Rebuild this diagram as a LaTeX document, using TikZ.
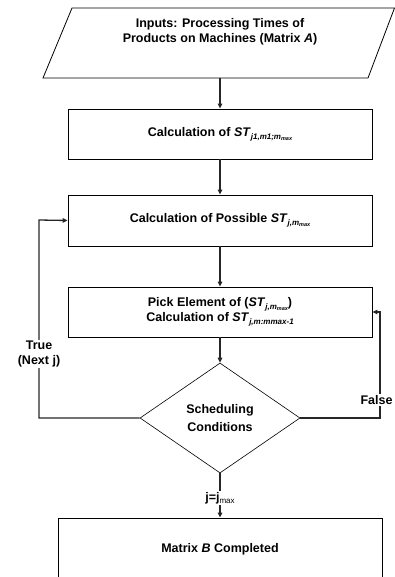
\documentclass[tikz,border=0pt]{standalone}
\usepackage{fontspec}
\setmainfont{Liberation Sans}
\usetikzlibrary{shapes.geometric,arrows.meta}
\newcommand{\subA}[1]{\raisebox{-0.45ex}{\fontsize{8}{9}\selectfont\itshape #1}}
\newcommand{\subB}[1]{\raisebox{-0.2ex}{\fontsize{5.5}{6}\selectfont\itshape #1}}
\begin{document}
\begin{tikzpicture}[x=1pt,y=-1pt,
  txt/.style={font=\fontsize{12.5}{14.5}\selectfont\bfseries, align=center},
  box/.style={txt, draw=black, line width=0.8pt, minimum width=304pt, minimum height=50pt, inner sep=0pt},
  dec/.style={txt, draw=black, line width=0.6pt, shape=diamond, minimum width=160pt, minimum height=110pt, inner sep=0pt},
  arr/.style={draw=black!85, line width=1.3pt, -{Triangle[length=5pt,width=4.5pt]}},
  lbl/.style={txt, fill=white, inner sep=1pt}]
\useasboundingbox (0,0) rectangle (395,577);
\draw[line width=0.8pt] (72,8) -- (394.5,8) -- (368,78) -- (43,78) -- cycle;
\node[txt] (in) at (220,32) {Inputs: Processing Times of\\Products on Machines (Matrix \textit{A})};
\coordinate (inb) at (220,78);
\node[box] (b1) at (220,134) {Calculation of \textit{ST}\subA{j1,m1;m\subB{max}}};
\node[box, minimum height=51pt] (b2) at (220,220.5) {Calculation of Possible \textit{ST}\subA{j,m\subB{max}}};
\node[box] (b3) at (220,312) {Pick Element of (\textit{ST}\subA{j,m\subB{max}})\\Calculation of \textit{ST}\subA{j,m:mmax-1}};
\node[dec] (d) at (220,418) {Scheduling\\[3pt]Conditions};
\node[box, minimum width=324pt, minimum height=62pt] (b4) at (220,549) {Matrix \textit{B} Completed};
\draw[arr] (inb) -- (b1);
\draw[arr] (b1) -- (b2);
\draw[arr] (b2) -- (b3);
\draw[arr] (b3) -- (d);
\coordinate (lc) at (39,220);
\draw[arr] (d.west) -| (lc) -- (b2.west);
\coordinate (rc) at (380,312);
\draw[arr] (d.east) -| (rc) -- (b3.east);
\draw[arr] (d.south) -- (b4.north);
\node[lbl] (tl) at (39,354) {True\\(Next j)};
\node[lbl] (fl) at (376.5,400) {False};
\node[lbl] (jl) at (220,498) {j=j\raisebox{-0.4ex}{\fontsize{8}{9}\selectfont\mdseries max}};
\end{tikzpicture}
\end{document}
